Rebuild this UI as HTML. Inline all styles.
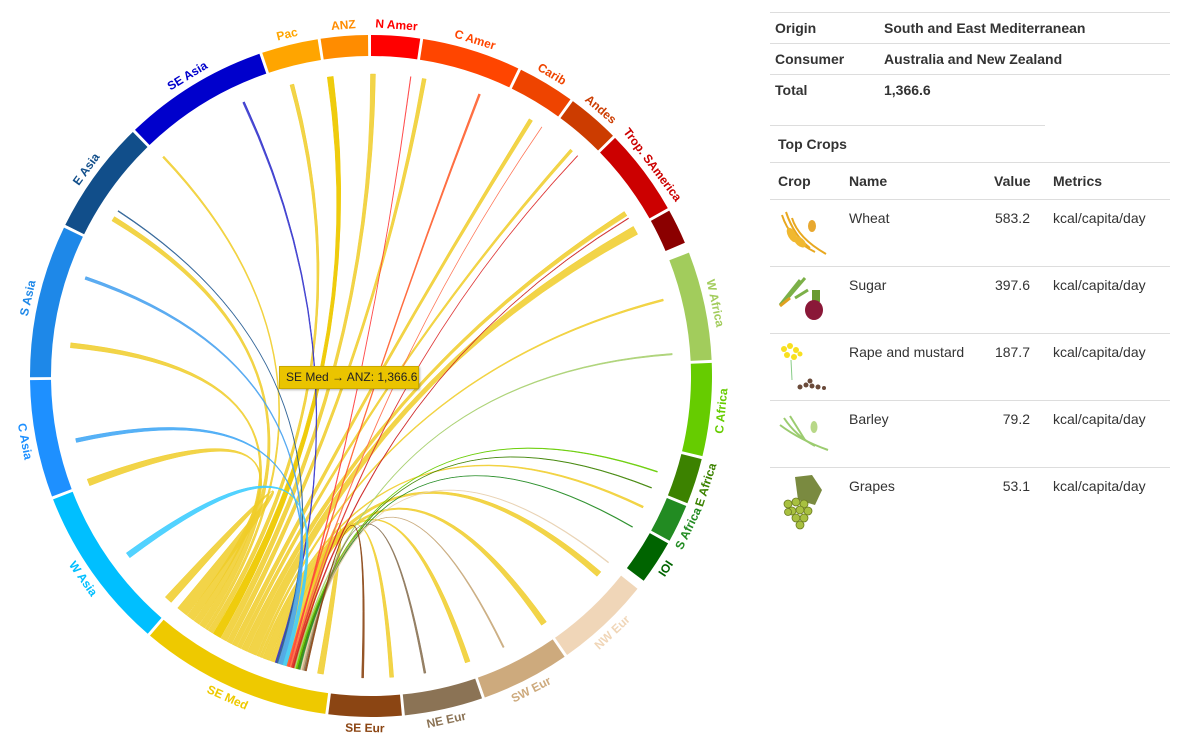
<!DOCTYPE html>
<html><head><meta charset="utf-8">
<style>
body{margin:0;background:#fff;width:1190px;height:750px;overflow:hidden;font-family:"Liberation Sans",Arial,sans-serif;color:#333;position:relative}
#tip{position:absolute;left:279px;top:366px;width:140px;height:23px;background:#eac400;border:1px solid #c9a800;box-sizing:border-box;font-size:12px;line-height:21px;padding-left:6px;color:#222;white-space:nowrap;box-shadow:1px 1px 2px rgba(0,0,0,.3)}
.t{position:absolute;font-size:14px}
.b{font-weight:bold}
.hl{position:absolute;height:1px;background:#ddd}
</style></head><body>
<svg id="s" width="1190" height="750" style="position:absolute;left:0;top:0"></svg>
<div id="tip">SE Med → ANZ: 1,366.6</div>

<div class="hl" style="left:770px;top:12px;width:400px"></div>
<div class="t b" style="left:775px;top:20px">Origin</div><div class="t b" style="left:884px;top:20px">South and East Mediterranean</div>
<div class="hl" style="left:770px;top:43px;width:400px"></div>
<div class="t b" style="left:775px;top:51px">Consumer</div><div class="t b" style="left:884px;top:51px">Australia and New Zealand</div>
<div class="hl" style="left:770px;top:74px;width:400px"></div>
<div class="t b" style="left:775px;top:82px">Total</div><div class="t b" style="left:884px;top:82px">1,366.6</div>
<div class="hl" style="left:770px;top:125px;width:275px"></div>
<div class="t b" style="left:778px;top:136px">Top Crops</div>
<div class="hl" style="left:770px;top:162px;width:400px"></div>
<div class="t b" style="left:778px;top:173px">Crop</div><div class="t b" style="left:849px;top:173px">Name</div><div class="t b" style="left:994px;top:173px">Value</div><div class="t b" style="left:1053px;top:173px">Metrics</div>
<div class="hl" style="left:770px;top:199px;width:400px"></div>
<div class="t" style="left:849px;top:210px">Wheat</div><div class="t" style="left:960px;width:70px;text-align:right;top:210px">583.2</div><div class="t" style="left:1053px;top:210px">kcal/capita/day</div>
<div class="hl" style="left:770px;top:266px;width:400px"></div>
<div class="t" style="left:849px;top:277px">Sugar</div><div class="t" style="left:960px;width:70px;text-align:right;top:277px">397.6</div><div class="t" style="left:1053px;top:277px">kcal/capita/day</div>
<div class="hl" style="left:770px;top:333px;width:400px"></div>
<div class="t" style="left:849px;top:344px">Rape and mustard</div><div class="t" style="left:960px;width:70px;text-align:right;top:344px">187.7</div><div class="t" style="left:1053px;top:344px">kcal/capita/day</div>
<div class="hl" style="left:770px;top:400px;width:400px"></div>
<div class="t" style="left:849px;top:411px">Barley</div><div class="t" style="left:960px;width:70px;text-align:right;top:411px">79.2</div><div class="t" style="left:1053px;top:411px">kcal/capita/day</div>
<div class="hl" style="left:770px;top:467px;width:400px"></div>
<div class="t" style="left:849px;top:478px">Grapes</div><div class="t" style="left:960px;width:70px;text-align:right;top:478px">53.1</div><div class="t" style="left:1053px;top:478px">kcal/capita/day</div>

<svg width="1190" height="750" style="position:absolute;left:0;top:0">
<g stroke="#e8a820" fill="none" stroke-width="2">
<path d="M782 215 Q790 240 815 252"/><path d="M786 212 Q794 236 810 248"/><path d="M792 218 Q798 238 826 254"/>
</g>
<g fill="#f0b830"><ellipse cx="792" cy="235" rx="4" ry="8" transform="rotate(-30 792 235)"/><ellipse cx="800" cy="242" rx="4" ry="7" transform="rotate(-50 800 242)"/><ellipse cx="812" cy="226" rx="4" ry="6" fill="#e8a830"/></g>
<g stroke="#7cb048" stroke-width="3" fill="none"><path d="M780 305 L800 280"/><path d="M786 300 L805 278"/><path d="M795 298 L808 290"/></g>
<path d="M780 306 L790 298" stroke="#e0a020" stroke-width="3"/>
<rect x="812" y="290" width="8" height="12" fill="#6a9a30"/>
<ellipse cx="814" cy="310" rx="9" ry="10" fill="#8a1838"/>
<g fill="#f8e020"><circle cx="784" cy="349" r="3"/><circle cx="790" cy="346" r="3"/><circle cx="796" cy="350" r="3"/><circle cx="787" cy="355" r="3"/><circle cx="794" cy="357" r="3"/><circle cx="800" cy="354" r="2.5"/></g>
<path d="M791 360 L792 380" stroke="#8c8" stroke-width="1"/>
<g fill="#6a4a3a"><circle cx="800" cy="387" r="2.5"/><circle cx="806" cy="385" r="2.5"/><circle cx="812" cy="386" r="2.5"/><circle cx="818" cy="387" r="2.5"/><circle cx="810" cy="381" r="2.5"/><circle cx="824" cy="388" r="2"/></g>
<g stroke="#9ccc70" stroke-width="2" fill="none"><path d="M780 425 Q800 440 828 450"/><path d="M784 418 Q796 436 815 446"/><path d="M790 416 Q800 432 805 440"/></g>
<ellipse cx="814" cy="427" rx="3.5" ry="6" fill="#b8d888"/>
<path d="M795 477 L812 475 L822 490 L815 505 L798 500 Z" fill="#7a8a40"/>
<g fill="#a8c040" stroke="#6a7a20" stroke-width="0.8"><circle cx="788" cy="504" r="4"/><circle cx="796" cy="502" r="4"/><circle cx="804" cy="504" r="4"/><circle cx="792" cy="511" r="4"/><circle cx="800" cy="510" r="4"/><circle cx="808" cy="511" r="4"/><circle cx="796" cy="518" r="4"/><circle cx="804" cy="518" r="4"/><circle cx="800" cy="525" r="4"/><circle cx="788" cy="512" r="3.5"/></g>
</svg>

<script>
var cx=371,cy=376,Ro=341,Ri=320,R=302,NS="http://www.w3.org/2000/svg",svg=document.getElementById('s');
function rad(d){return d*Math.PI/180}
function P(a,r){return [cx+r*Math.sin(rad(a)),cy-r*Math.cos(rad(a))]}
function el(t,at,txt){var e=document.createElementNS(NS,t);for(var k in at)e.setAttribute(k,at[k]);if(txt)e.textContent=txt;svg.appendChild(e);return e}
function ang(x,y){var a=Math.atan2(x-cx,cy-y)*180/Math.PI;return a<0?a+360:a}
var segs=[
["Pac",341.4,351,"#ffa500"],["ANZ",351.5,359.5,"#ff8c00"],["N Amer",0,8.3,"#ff0000"],["C Amer",8.8,25.6,"#ff4500"],
["Carib",26.1,35.8,"#ee4400"],["Andes",36.3,45.2,"#cc3c00"],["Trop. SAmerica",45.7,60.5,"#cc0000"],["",61,67,"#8b0000"],
["W Africa",68.8,87.3,"#a2cc5c"],["C Africa",87.8,103.6,"#66cc00"],["E Africa",104.1,111.9,"#3c8200"],["S Africa",112.4,118.9,"#228b22"],
["IOI",119.4,126.9,"#006400"],["NW Eur",128.6,144.9,"#f0d6b8"],["SW Eur",145.4,160.5,"#cdaa7d"],["NE Eur",161,174.3,"#8b7355"],
["SE Eur",174.8,187.2,"#8b4513"],["SE Med",187.7,220.4,"#eec900"],["W Asia",220.9,248.8,"#00bfff"],["C Asia",249.3,269.3,"#1e90ff"],
["S Asia",269.8,295.8,"#1e88e8"],["E Asia",296.3,315.7,"#114e8a"],["SE Asia",316.2,340.9,"#0000cc"]];
function ribbon(s0,s1,t0,t1,col,op){
 var a=P(s0,R),b=P(s1,R),c=P(t0,R),d=P(t1,R);
 var dd="M"+a+"A"+R+","+R+" 0 0 1 "+b+"Q"+cx+","+cy+" "+c+"A"+R+","+R+" 0 0 1 "+d+"Q"+cx+","+cy+" "+a+"Z";
 el("path",{d:dd,fill:col,"fill-opacity":op,stroke:col,"stroke-opacity":op,"stroke-width":0.5});
}
var G="#f0cc28";
var gold=[[168,600,8,2.2],[87,483,7,1.5],[68,345,5,1.2],[112,218,5,1.2],[190,185,2,0.6],[292,85,4,1],[330,75,6,1.6],[373,72,5,1.2],[424,80,4,1],
[512,150,4,1],[545,180,3,0.8],[592,235,5,1.2],[636,230,9,1.8],[663,300,2,0.5],[645,508,2,0.5],[600,575,6,1.4],[545,625,6,1.4],[468,663,5,1.2],[392,682,4,1],[318,688,6,1.4]];
var sa=219.8;
gold.forEach(function(g,i){var t=ang(g[0],g[1]);var w=g[2]/R*180/Math.PI;var s1=sa,s0=sa-g[3];sa=s0-0.1;
 ribbon(s0,s1,t-w/2,t+w/2,i==6?"#eec900":G,i==6?0.95:0.85);});
var col=[[237,88,2,"#3333cc"],[135,222,1,"#2a5f95"],[68,272,3,"#4aa3f0"],[60,444,4,"#44a8f5"],[115,565,6,"#3fcdff"],
[485,80,2,"#ff6030"],[413,60,0.6,"#ff4040"],[548,118,0.4,"#ff7050"],[583,150,0.6,"#dd3030"],[642,210,0.7,"#cc2020"],
[688,353,1.5,"#a8d070"],[676,478,1,"#66cc00"],[662,492,0.8,"#3c8200"],[655,540,0.8,"#228b22"],[590,548,1,"#e8d0b0"],[500,640,1.5,"#c8a87a"],[428,690,2,"#8b7355"],[362,700,2,"#8b4513"]];
var ca=198.5;
col.forEach(function(g){var t=ang(g[0],g[1]);var w=g[2]/R*180/Math.PI;var s1=ca,s0=ca-Math.max(g[2]*0.12,0.25);ca=s0-0.05;
 ribbon(s0,s1,t-w/2,t+w/2,g[3],0.9);});
segs.forEach(function(s){var a0=s[1],a1=s[2];var p1=P(a0,Ro),p2=P(a1,Ro),p3=P(a1,Ri),p4=P(a0,Ri);
 el("path",{d:"M"+p1+"A"+Ro+","+Ro+" 0 0 1 "+p2+"L"+p3+"A"+Ri+","+Ri+" 0 0 0 "+p4+"Z",fill:s[3]});
 if(!s[0])return;var m=(a0+a1)/2,p=P(m,Ro+11),rot=(m>90&&m<270)?m-180:m;
 el("text",{x:p[0],y:p[1],fill:s[3],"font-size":12,"font-weight":"bold","text-anchor":"middle","dominant-baseline":"central","font-family":"Liberation Sans, Arial, sans-serif",transform:"rotate("+rot+" "+p[0]+" "+p[1]+")"},s[0]);
});
</script>
</body></html>
